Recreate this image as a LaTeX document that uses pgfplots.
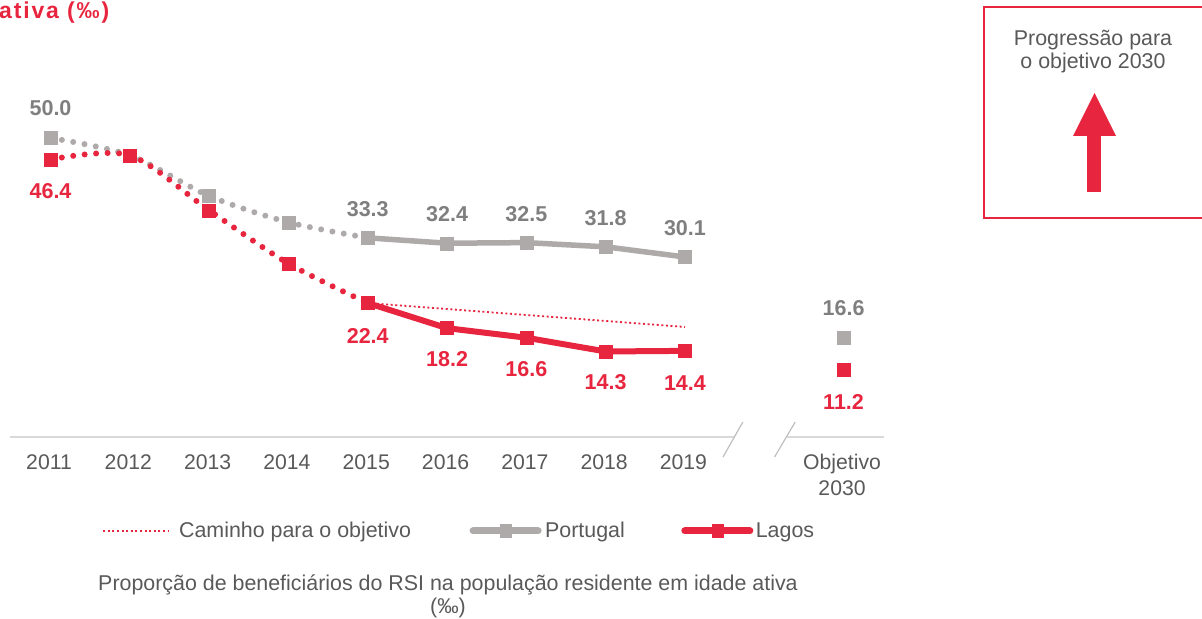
\documentclass[border=0pt]{standalone}
\usepackage{fontspec}
\setmainfont{Liberation Sans}
\usepackage{pgfplots}
\pgfplotsset{compat=1.18}
\definecolor{myred}{RGB}{232,37,62}
\definecolor{mygray}{RGB}{174,170,170}
\definecolor{lblgray}{RGB}{127,127,127}
\definecolor{txtgray}{RGB}{89,89,89}
\definecolor{basegray}{RGB}{217,217,217}
\definecolor{slashgray}{RGB}{191,191,191}
\newcommand{\fs}{\fontsize{21.4bp}{23bp}\selectfont}
\newcommand{\lbl}{\fontsize{21.5bp}{23bp}\selectfont\bfseries}

\begin{document}
\begin{tikzpicture}
\useasboundingbox (0,0) rectangle (1202bp,619bp);
\clip (0,0) rectangle (1202bp,619bp);
\begin{axis}[
  at={(10bp,182bp)}, anchor=south west,
  scale only axis, width=874bp, height=337bp,
  xmin=-0.511, xmax=10.51, ymin=0, ymax=56.35,
  clip=false,
  axis line style={draw=none},
  tick style={draw=none},
  major tick length=0pt,
  ytick=\empty,
  xtick={0,1,2,3,4,5,6,7,8,10},
  xticklabels={2011,2012,2013,2014,2015,2016,2017,2018,2019,{Objetivo\\2030}},
  xticklabel style={font=\fontsize{21.2bp}{26bp}\selectfont, text=txtgray, align=center, anchor=north, yshift=-14bp, xshift=-1.5bp},
  legend columns=3,
  legend style={at={(0.1053,-0.2789)}, anchor=west, draw=none, fill=none,
    inner sep=0pt, font=\fs, text=txtgray,
    nodes={inner sep=0pt, text depth=0.2em}},
]
% legend entries
\addlegendimage{legend image code/.code={
  \path[draw=none] (0bp,0bp) -- (76bp,0bp);
  \draw[myred, line width=1.8bp, dash pattern=on 2bp off 2.6bp] (0bp,0bp) -- (66bp,0bp);}}
\addlegendentry{Caminho para o objetivo}
\addlegendimage{legend image code/.code={
  \path[draw=none] (0bp,0bp) -- (134bp,0bp);
  \draw[mygray, line width=7bp, line cap=round] (62bp,0bp) -- (127bp,0bp);
  \fill[mygray] (89bp,-6.5bp) rectangle (100bp,6.5bp);}}
\addlegendentry{Portugal}
\addlegendimage{legend image code/.code={
  \path[draw=none] (0bp,0bp) -- (131bp,0bp);
  \draw[myred, line width=7bp, line cap=round] (60bp,0bp) -- (125bp,0bp);
  \fill[myred] (87bp,-6.5bp) rectangle (98bp,6.5bp);}}
\addlegendentry{Lagos}

% baseline with break
\draw[basegray, line width=1.5bp] (axis cs:-0.511,0) -- (axis cs:8.63,0);
\draw[basegray, line width=1.5bp] (axis cs:9.29,0) -- (axis cs:10.51,0);
\draw[slashgray, line width=1.2bp] (axis cs:8.73,2.5) -- (axis cs:8.48,-3.34);
\draw[slashgray, line width=1.2bp] (axis cs:9.39,2.5) -- (axis cs:9.13,-3.34);

% Portugal
\addplot[mygray, line width=6bp, line cap=round, dash pattern=on 0bp off 11.5bp, smooth] coordinates {
  (0,50.0) (1,47.1) (2,40.3) (3,35.9) (4,33.3)};
\addplot[mygray, line width=5.5bp] coordinates {
  (4,33.3) (5,32.4) (6,32.5) (7,31.8) (8,30.1)};
\addplot[only marks, mark=square*, mark size=6.5bp, mygray] coordinates {
  (0,50.0) (1,47.1) (2,40.3) (3,35.9) (4,33.3) (5,32.4) (6,32.5) (7,31.8) (8,30.1) (10,16.6)};

% Lagos
\addplot[myred, line width=6bp, line cap=round, dash pattern=on 0bp off 11.5bp, smooth] coordinates {
  (0,46.4) (1,47.1) (2,37.9) (3,29.0) (4,22.4)};
\addplot[myred, line width=6bp] coordinates {
  (4,22.4) (5,18.2) (6,16.6) (7,14.3) (8,14.4)};
% Caminho para o objetivo
\addplot[myred, line width=1.8bp, dash pattern=on 2bp off 2.6bp] coordinates {
  (4,22.4) (8,18.4)};
\addplot[only marks, mark=square*, mark size=6.5bp, myred] coordinates {
  (0,46.4) (1,47.1) (2,37.9) (3,29.0) (4,22.4) (5,18.2) (6,16.6) (7,14.3) (8,14.4) (10,11.2)};

% data labels
\begin{scope}[every node/.style={font=\lbl, text=lblgray, inner sep=0pt}]
\node[yshift=30bp] at (axis cs:0,50.0) {50.0};
\node[yshift=29bp] at (axis cs:4,33.3) {33.3};
\node[yshift=29bp] at (axis cs:5,32.4) {32.4};
\node[yshift=29bp] at (axis cs:6,32.5) {32.5};
\node[yshift=29bp] at (axis cs:7,31.8) {31.8};
\node[yshift=29bp] at (axis cs:8,30.1) {30.1};
\node[yshift=30bp] at (axis cs:10,16.6) {16.6};
\end{scope}
\begin{scope}[every node/.style={font=\lbl, text=myred, inner sep=0pt}]
\node[yshift=-32bp] at (axis cs:0,46.4) {46.4};
\node[yshift=-33bp] at (axis cs:4,22.4) {22.4};
\node[yshift=-31bp] at (axis cs:5,18.2) {18.2};
\node[yshift=-31bp] at (axis cs:6,16.6) {16.6};
\node[yshift=-31bp] at (axis cs:7,14.3) {14.3};
\node[yshift=-32bp] at (axis cs:8,14.4) {14.4};
\node[yshift=-32bp] at (axis cs:10,11.2) {11.2};
\end{scope}
\end{axis}

% title (cut at left)
\node[anchor=base west, inner sep=0pt, text=myred,
  font=\fontsize{23bp}{26bp}\selectfont\bfseries\addfontfeatures{LetterSpace=8}]
  at (-1bp,600bp) {ativa (‰)};

% subtitle
\node[align=center, font=\fs, text=txtgray, inner sep=0pt] at (448bp,23bp)
  {Proporção de beneficiários do RSI na população residente em idade ativa\\(‰)};

% progression box
\draw[myred, line width=1.5bp] (984bp,401bp) rectangle (1215bp,612bp);
\node[align=center, font=\fs, text=txtgray, inner sep=0pt] at (1093bp,567.5bp)
  {Progressão para\\o objetivo 2030};
\fill[myred] (1087bp,427bp) rectangle (1101bp,484bp);
\fill[myred] (1073bp,483bp) -- (1116bp,483bp) -- (1094.5bp,526bp) -- cycle;
\end{tikzpicture}
\end{document}
